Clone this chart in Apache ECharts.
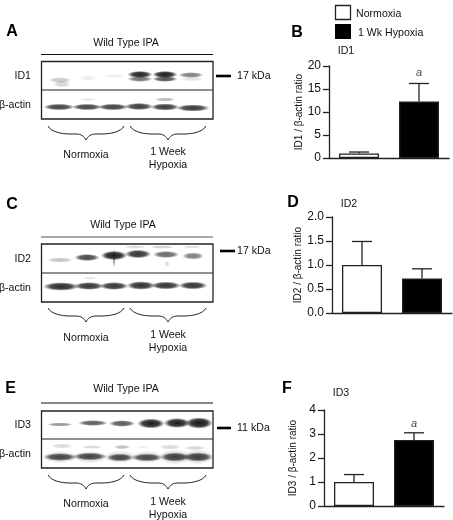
<!DOCTYPE html>
<html>
<head>
<meta charset="utf-8">
<style>html,body{margin:0;padding:0;background:#fff}#c{width:453px;height:520px;filter:blur(0.4px)}</style>
<script src="https://cdn.jsdelivr.net/npm/echarts@6/dist/echarts.min.js"></script>
</head>
<body>
<div id="c"></div>
<script>
// ---- data ----
const groups = ['Normoxia', '1 Wk Hypoxia'];
const id1Means = [1.0, 12.3];
const id1Tops = [1.3, 16.2];
const id2Means = [1.0, 0.72];
const id2Tops = [1.49, 0.92];
const id3Means = [1.0, 2.75];
const id3Tops = [1.31, 3.05];
const id1Mark = [[1, 18.6]];
const id3Mark = [[1, 3.42]];
const barFills = ['#ffffff', '#000000'];
const laneGroups = ['Normoxia', '1 Week\nHypoxia'];

// ---- styling ----
const FONT = '"Liberation Sans", Arial, sans-serif';
const INK = '#111';
const AXIS = '#222';

// ---- panels (library scales and axes) ----
const panels = [
  {name: 'ID1 / β-actin ratio', means: id1Means, tops: id1Tops, mark: id1Mark, max: 20, step: 5, dec: 0, left: 329, top: 66, h: 92, gap: 24},
  {name: 'ID2 / β-actin ratio', means: id2Means, tops: id2Tops, mark: [], max: 2, step: 0.5, dec: 1, left: 332, top: 217, h: 96, gap: 28},
  {name: 'ID3 / β-actin ratio', means: id3Means, tops: id3Tops, mark: id3Mark, max: 4, step: 1, dec: 0, left: 324, top: 410, h: 96, gap: 26}
];
const grid = [], xAxis = [], yAxis = [], series = [];
panels.forEach((p, i) => {
  grid.push({left: p.left, top: p.top, width: 120, height: p.h, containLabel: false});
  xAxis.push({type: 'category', gridIndex: i, data: groups,
    axisLine: {lineStyle: {color: AXIS, width: 1.3}}, axisTick: {show: false}, axisLabel: {show: false}});
  yAxis.push({type: 'value', gridIndex: i, min: 0, max: p.max, interval: p.step, splitLine: {show: false},
    name: p.name, nameLocation: 'middle', nameGap: p.gap, nameRotate: 90,
    nameTextStyle: {fontFamily: FONT, fontSize: 10, color: INK},
    axisLine: {show: true, lineStyle: {color: AXIS, width: 1.3}},
    axisTick: {show: true, length: 6, lineStyle: {color: AXIS, width: 1.3}},
    axisLabel: {fontFamily: FONT, fontSize: 12, color: INK, margin: 8, formatter: v => v.toFixed(p.dec)}});
  series.push({type: 'bar', xAxisIndex: i, yAxisIndex: i, barWidth: 40, silent: true,
    data: p.means.map((v, k) => ({value: v, itemStyle: {color: barFills[k], borderColor: '#222', borderWidth: 1.3}}))});
  series.push({type: 'custom', xAxisIndex: i, yAxisIndex: i, silent: true,
    data: p.means.map((v, k) => [k, v, p.tops[k]]),
    encode: {x: 0, y: 2},
    renderItem: (params, api) => {
      const a = api.coord([api.value(0), api.value(1)]);
      const b = api.coord([api.value(0), api.value(2)]);
      const st = {stroke: AXIS, lineWidth: 1.3, fill: null};
      return {type: 'group', children: [
        {type: 'line', shape: {x1: a[0], y1: a[1], x2: b[0], y2: b[1]}, style: st},
        {type: 'line', shape: {x1: b[0] - 10, y1: b[1], x2: b[0] + 10, y2: b[1]}, style: st}
      ]};
    }});
  if (p.mark.length) series.push({type: 'scatter', xAxisIndex: i, yAxisIndex: i, silent: true, symbolSize: 0,
    data: p.mark, label: {show: true, position: 'inside', formatter: 'a', fontFamily: FONT, fontStyle: 'italic', fontSize: 11, color: INK}});
});

// ---- blot decorations ----
const g = [];
function txt(x, y, text, o) {
  g.push({type: 'text', x: x, y: y, silent: true, style: Object.assign({text: text, fontFamily: FONT, fontSize: 10.6, fill: INK,
    align: 'center', verticalAlign: 'middle'}, o || {})});
}
function line(x1, y1, x2, y2, w, c) {
  g.push({type: 'line', silent: true, shape: {x1, y1, x2, y2}, style: {stroke: c || '#111', lineWidth: w || 1}});
}
function curve(x1, y1, cx1, cy1, cx2, cy2, x2, y2) {
  g.push({type: 'bezierCurve', silent: true, shape: {x1, y1, x2, y2, cpx1: cx1, cpy1: cy1, cpx2: cx2, cpy2: cy2},
    style: {stroke: '#222', lineWidth: 1, fill: null}});
}
function band(cx, cy, w, h, a) {
  const col = al => `rgba(25,25,25,${al})`;
  g.push({type: 'circle', silent: true, x: cx, y: cy, scaleX: w * 0.6, scaleY: h * 0.72, shape: {cx: 0, cy: 0, r: 1},
    style: {fill: {type: 'radial', x: 0.5, y: 0.5, r: 0.5, colorStops: [
      {offset: 0, color: col(a)}, {offset: 0.6, color: col(a * 0.85)}, {offset: 1, color: col(0)}]}}});
}
function brace(x1, x2, y) {
  const m = (x1 + x2) / 2, d = y + 8, t = y + 14;
  curve(x1, y, x1 + 3, y + 6, x1 + 14, d, x1 + 22, d);
  line(x1 + 22, d, m - 10, d, 1, '#222');
  curve(m - 10, d, m - 5, d, m - 2, d + 2, m, t);
  curve(m, t, m + 2, d + 2, m + 5, d, m + 10, d);
  line(m + 10, d, x2 - 22, d, 1, '#222');
  curve(x2 - 22, d, x2 - 14, d, x2 - 3, y + 6, x2, y);
}
function blot(b) {
  txt(b.x + 85, b.titleY, 'Wild Type IPA');
  line(41, b.lineY, 213, b.lineY, 1.1, b.lineC);
  (b.bands || []).forEach(r => band.apply(null, r));
  g.push({type: 'rect', silent: true, shape: {x: 41.5, y: b.top, width: 171.5, height: b.bot - b.top}, style: {fill: null, stroke: '#222', lineWidth: 1.3}});
  line(41.5, b.mid, 213, b.mid, 1.2, '#222');
  txt(31, b.labelY, b.label, {align: 'right'});
  txt(31, b.actinY, 'β-actin', {align: 'right'});
  line(b.tickX1, b.tickY, b.tickX2, b.tickY, 2.6, '#000');
  txt(237, b.tickY, b.kda, {align: 'left'});
  brace(48, 124, b.braceY);
  brace(130, 206, b.braceY);
  txt(86, b.normY, laneGroups[0]);
  txt(168, b.weekY, laneGroups[1], {lineHeight: 13, verticalAlign: 'top'});
}

blot({x: 41, titleY: 43, lineY: 54.5, lineC: '#111', top: 61.5, bot: 119, mid: 90, label: 'ID1', labelY: 76, actinY: 105,
  tickX1: 216, tickX2: 231, tickY: 76, kda: '17 kDa', braceY: 126, normY: 155, weekY: 146,
  bands: [
    [60, 80, 20, 4, 0.22], [62, 84, 14, 5, 0.18], [88, 78, 14, 3.5, 0.08], [115, 76, 16, 3, 0.08],
    [140, 74.5, 21, 5, 0.95], [140, 79, 21, 4, 0.6], [165, 74.5, 21, 5, 0.98], [165, 79, 21, 4, 0.75],
    [191, 75, 21, 4, 0.55], [192, 79, 20, 3, 0.12],
    [59, 107, 26, 4.6, 0.82], [87, 107, 25, 4.6, 0.82], [113, 107, 26, 4.6, 0.82],
    [139, 106.5, 24, 5, 0.85], [165, 107, 24, 5, 0.85], [193, 108, 28, 5, 0.85],
    [88, 99.5, 14, 2, 0.12], [165, 99.5, 17, 3, 0.3]
  ]});

blot({x: 38, titleY: 225, lineY: 237, lineC: '#555', top: 244, bot: 302, mid: 273, label: 'ID2', labelY: 259, actinY: 288,
  tickX1: 220, tickX2: 235, tickY: 251, kda: '17 kDa', braceY: 308, normY: 338, weekY: 329,
  bands: [
    [60, 260, 22, 3.5, 0.25], [87, 257.5, 21, 5, 0.8], [114, 255.5, 22, 6.5, 0.98], [114, 258, 2, 14, 0.45],
    [138, 254, 22, 6, 0.88], [166, 254.5, 22, 5, 0.65], [193, 256, 18, 5, 0.55],
    [135, 247, 18, 2.5, 0.15], [162, 247, 20, 2.5, 0.2], [192, 247, 15, 2, 0.15], [167, 264, 4, 4, 0.15],
    [61, 286.5, 30, 6, 0.92], [89, 286, 25, 5.5, 0.88], [114, 286, 24, 5.5, 0.88],
    [141, 285.5, 24, 6, 0.9], [166, 285.5, 25, 5.5, 0.88], [193, 285.5, 24, 5.5, 0.88],
    [90, 278, 12, 2, 0.12]
  ]});

blot({x: 41, titleY: 389, lineY: 403, lineC: '#111', top: 411, bot: 468, mid: 439, label: 'ID3', labelY: 425, actinY: 454,
  tickX1: 217, tickX2: 231, tickY: 428, kda: '11 kDa', braceY: 475, normY: 504, weekY: 496,
  bands: [
    [60, 424.5, 22, 2.6, 0.45], [93, 423, 25, 4, 0.7], [122, 423.5, 22, 4.6, 0.72],
    [151, 423.5, 23, 7, 0.98], [177, 423, 22, 7, 0.98], [199, 423, 23, 8, 1],
    [62, 446, 18, 3.5, 0.15], [92, 447, 18, 2.5, 0.18], [122, 447, 14, 3, 0.28],
    [143, 447, 12, 2, 0.08], [170, 447, 18, 3.5, 0.16], [195, 448, 18, 3, 0.18],
    [60, 457, 30, 9, 0.14], [90, 457, 30, 9, 0.14], [120, 457, 28, 9, 0.14], [147, 457, 28, 9, 0.14], [175, 457, 28, 11, 0.14], [198, 457, 28, 11, 0.14],
    [60, 457, 28, 5.5, 0.8], [90, 456.5, 28, 5.5, 0.8], [120, 457.5, 23, 5.5, 0.78],
    [147, 457.5, 26, 5.5, 0.78], [175, 457, 25, 6.5, 0.82], [198, 457, 25, 6.5, 0.82]
  ]});

// panel letters
[['A', 12, 32], ['C', 12, 205], ['E', 10.5, 389], ['B', 297, 33], ['D', 293, 203], ['F', 287, 389]].forEach(l =>
  txt(l[1], l[2], l[0], {fontSize: 16, fontWeight: 'bold', fill: '#000'}));

// chart titles
txt(346, 51, 'ID1'); txt(349, 204, 'ID2'); txt(341, 393, 'ID3');

// key
g.push({type: 'rect', silent: true, shape: {x: 335.5, y: 5.5, width: 15, height: 14}, style: {fill: '#fff', stroke: '#222', lineWidth: 1.3}});
g.push({type: 'rect', silent: true, shape: {x: 335, y: 24, width: 16, height: 15}, style: {fill: '#000'}});
txt(356, 14, groups[0], {align: 'left'});
txt(358, 33, groups[1], {align: 'left'});

const chart = echarts.init(document.getElementById('c'), null, {renderer: 'canvas', width: 453, height: 520});
chart.setOption({animation: false, backgroundColor: '#fff', grid, xAxis, yAxis, series, graphic: {elements: g}});
</script>
</body>
</html>
